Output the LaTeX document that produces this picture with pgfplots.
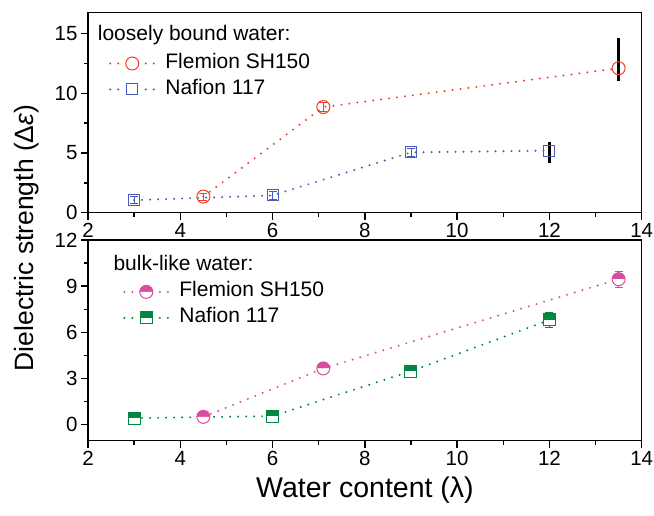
\documentclass[border=0pt]{standalone}
\usepackage{pgfplots}
\pgfplotsset{compat=1.18}
\usepackage{fontspec}
\setmainfont{Liberation Sans}
\usetikzlibrary{plotmarks}
\definecolor{cred}{RGB}{240,60,40}
\definecolor{cblue}{RGB}{70,90,190}
\definecolor{cpink}{RGB}{215,75,160}
\definecolor{cgreen}{RGB}{0,135,65}
\pgfdeclareplotmark{tophalfsquare}{%
  \begin{pgfscope}
  \pgfsetfillcolor{white}
  \pgfpathrectangle{\pgfpoint{-\pgfplotmarksize}{-\pgfplotmarksize}}{\pgfpoint{2\pgfplotmarksize}{2\pgfplotmarksize}}%
  \pgfusepathqfill
  \end{pgfscope}
  \pgfpathrectangle{\pgfpoint{-\pgfplotmarksize}{0pt}}{\pgfpoint{2\pgfplotmarksize}{\pgfplotmarksize}}%
  \pgfusepathqfill
  \pgfpathrectangle{\pgfpoint{-\pgfplotmarksize}{-\pgfplotmarksize}}{\pgfpoint{2\pgfplotmarksize}{2\pgfplotmarksize}}%
  \pgfusepathqstroke
}
\pgfplotsset{
  myaxis/.style={
    scale only axis, width=553.7pt,
    xmin=2, xmax=14, xtick={2,4,...,14}, minor x tick num=1,
    axis line style={line width=1.4pt},
    every tick/.style={line width=1.4pt, black},
    major tick length=7pt, minor tick length=4pt,
    tick align=outside,
    xtick pos=left, ytick pos=left,
    tick label style={font=\fontsize{20.5}{24}\selectfont},
    /pgf/number format/assume math mode=true,
    axis background/.style={fill=white},
    legend cell align=left,
    legend style={draw=none, fill=none, inner sep=0pt, column sep=10pt, row sep=6pt,
      font=\fontsize{21}{25}\selectfont,
      nodes={inner sep=0pt, text height=15pt, text depth=5pt}},
    legend image code/.code={%
      \draw[##1, mark=none] (0pt,0pt) -- (8.5pt,0pt);
      \draw[##1, mark=none] (35.5pt,0pt) -- (44pt,0pt);
      \draw[##1, only marks] plot coordinates {(22pt,0pt)};},
  },
  dotline/.style={line width=2.2pt, dash pattern=on 0pt off 8pt, line cap=round},
  smallerr/.style={draw=none, no markers, forget plot, error bars/.cd, y dir=both, y explicit,
    error bar style={draw=#1, line width=0.8pt, solid},
    error mark options={draw=#1, rotate=90, line width=0.8pt, mark size=4pt, solid}},
}
\begin{document}
\begin{tikzpicture}
\useasboundingbox (0,0) rectangle (654pt,515pt);
% top panel
\begin{axis}[myaxis, at={(88pt,302.3pt)}, anchor=south west, height=200pt,
  ymin=0, ymax=16.75, ytick={0,5,10,15}, minor y tick num=1,
  legend style={at={(0,1)}, anchor=north west, xshift=21pt, yshift=-40.6pt}]
\addplot[cred, dotline, mark=o, mark size=6.5pt, mark options={solid, line width=1pt}]
  coordinates {(4.5,1.35) (7.1,8.85) (13.5,12.1)};
\addlegendentry{Flemion SH150}
\addplot[cblue, dotline, mark=square, mark size=5.5pt, mark options={solid, line width=1pt}]
  coordinates {(3,1.05) (6,1.45) (9,5.05) (12,5.2)};
\addlegendentry{Nafion 117}
\addplot[smallerr=cred] coordinates {(4.5,1.35) +- (0,0.3) (7.1,8.85) +- (0,0.35)};
\addplot[smallerr=cblue] coordinates {(3,1.05) +- (0,0.3) (6,1.45) +- (0,0.3) (9,5.05) +- (0,0.35)};
\addplot[draw=none, no markers, forget plot, error bars/.cd, y dir=both, y explicit,
  error bar style={draw=black, line width=3pt, solid}, error mark=none]
  coordinates {(13.5,12.1) += (0,2.55) -= (0,1.08) (12,5.22) += (0,0.67) -= (0,1.05)};
\node[anchor=west, inner sep=0pt, font=\fontsize{21}{25}\selectfont] at (rel axis cs:0,1) [xshift=9.7pt, yshift=-22.3pt] {loosely bound water:};
\end{axis}
% bottom panel
\begin{axis}[myaxis, at={(88pt,74.3pt)}, anchor=south west, height=200.7pt,
  ymin=-1.05, ymax=12, ytick={0,3,6,9,12}, minor y tick num=1,
  legend style={at={(0,1)}, anchor=north west, xshift=35pt, yshift=-41.7pt}]
\addplot[cpink, dotline, mark=halfcircle*, mark size=6.5pt, mark options={solid, line width=1pt, draw=cpink, fill=cpink}]
  coordinates {(4.5,0.5) (7.1,3.65) (13.5,9.45)};
\addlegendentry{Flemion SH150}
\addplot[cgreen, dotline, mark=tophalfsquare, mark size=6pt, mark options={solid, line width=1pt, draw=cgreen, fill=cgreen}]
  coordinates {(3,0.42) (6,0.55) (9,3.47) (12,6.8)};
\addlegendentry{Nafion 117}
\addplot[smallerr=cpink] coordinates {(4.5,0.5) +- (0,0.3) (7.1,3.65) +- (0,0.3) (13.5,9.45) +- (0,0.5)};
\addplot[smallerr=cgreen] coordinates {(3,0.42) +- (0,0.3) (6,0.55) +- (0,0.3) (9,3.47) +- (0,0.3) (12,6.8) +- (0,0.5)};
\node[anchor=west, inner sep=0pt, font=\fontsize{21}{25}\selectfont] at (rel axis cs:0,1) [xshift=25.3pt, yshift=-23.3pt] {bulk-like water:};
\end{axis}
\node[rotate=90, font=\fontsize{26.5}{31}\selectfont, inner sep=0pt] at (27pt,277pt) {Dielectric strength (Δ{\itshape ε})};
\node[font=\fontsize{28.5}{33}\selectfont, inner sep=0pt] at (365pt,25pt) {Water content (λ)};
\end{tikzpicture}
\end{document}
